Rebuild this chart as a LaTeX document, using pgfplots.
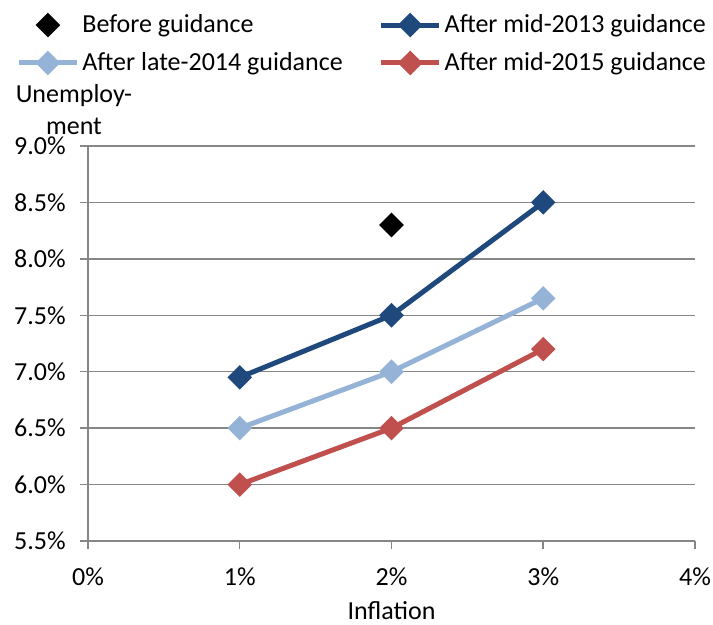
\documentclass[border=0pt]{standalone}
\usepackage{pgfplots}
\pgfplotsset{compat=1.18}
\usepackage{fontspec}
\setmainfont{Carlito}
\definecolor{dblue}{RGB}{31,73,125}
\definecolor{lblue}{RGB}{149,179,215}
\definecolor{cred}{RGB}{192,80,77}
\definecolor{gridgray}{RGB}{134,134,134}
\begin{document}
\fontsize{13}{16}\selectfont
\begin{tikzpicture}
\useasboundingbox (0,0) rectangle (356.5pt,-312.5pt);
\begin{axis}[
  at={(44pt,-270.5pt)}, anchor=south west,
  scale only axis, width=303.5pt, height=197.5pt,
  xmin=0, xmax=4, ymin=5.5, ymax=9.0,
  xtick={0,1,2,3,4}, ytick={5.5,6.0,6.5,7.0,7.5,8.0,8.5,9.0},
  axis x line*=bottom, axis y line*=left,
  axis line style={draw=gridgray, line width=0.75pt},
  tick align=outside, major tick length=4pt,
  tick style={draw=gridgray, line width=0.75pt},
  ymajorgrids, grid style={draw=gridgray, line width=0.75pt},
  /pgf/number format/assume math mode=true,
  tick label style={font=\fontsize{13}{16}\selectfont, text=black},
  yticklabel={\pgfmathprintnumber[fixed,fixed zerofill,precision=1]{\tick}\%},
  xticklabel={\pgfmathprintnumber[fixed,precision=0]{\tick}\%},
  yticklabel style={anchor=east, inner sep=0pt, xshift=-7pt},
  xticklabel style={anchor=center, inner sep=0pt, yshift=-14pt},
  xlabel={Inflation},
  xlabel style={at={(axis description cs:0.5,0)}, anchor=center, inner sep=0pt, yshift=-35pt, font=\fontsize{13}{16}\selectfont},
  legend columns=2,
  legend cell align=left,
  legend image code/.code={\draw[mark repeat=2,mark phase=2] plot coordinates {(0pt,0pt) (14.5pt,0pt) (29pt,0pt)};},
  legend style={draw=none, fill=none, inner sep=0pt, at={(axis description cs:-0.1186,1.335)}, anchor=north west,
    font=\fontsize{13}{16}\selectfont, row sep=8pt,
    nodes={inner sep=0pt},
    /tikz/every odd column/.append style={column sep=1.5pt},
    /tikz/every even column/.append style={column sep=18pt}},
  every axis plot/.append style={line width=2.5pt, mark=square*, mark size=3.1pt},
]
\addplot[only marks, black, mark options={rotate=45, solid, fill=black, draw=black}] coordinates {(2,8.3)};
\addlegendentry{Before guidance}
\addplot[dblue, mark options={rotate=45, solid, fill=dblue, draw=dblue}] coordinates {(1,6.95) (2,7.5) (3,8.5)};
\addlegendentry{After mid-2013 guidance}
\addplot[lblue, mark options={rotate=45, solid, fill=lblue, draw=lblue}] coordinates {(1,6.5) (2,7.0) (3,7.65)};
\addlegendentry{After late-2014 guidance}
\addplot[cred, mark options={rotate=45, solid, fill=cred, draw=cred}] coordinates {(1,6.0) (2,6.5) (3,7.2)};
\addlegendentry{After mid-2015 guidance}
\end{axis}
\node[align=center, inner sep=0pt, font=\fontsize{13}{16}\selectfont] at (37pt,-55pt) {Unemploy-\\ment};
\end{tikzpicture}
\end{document}
